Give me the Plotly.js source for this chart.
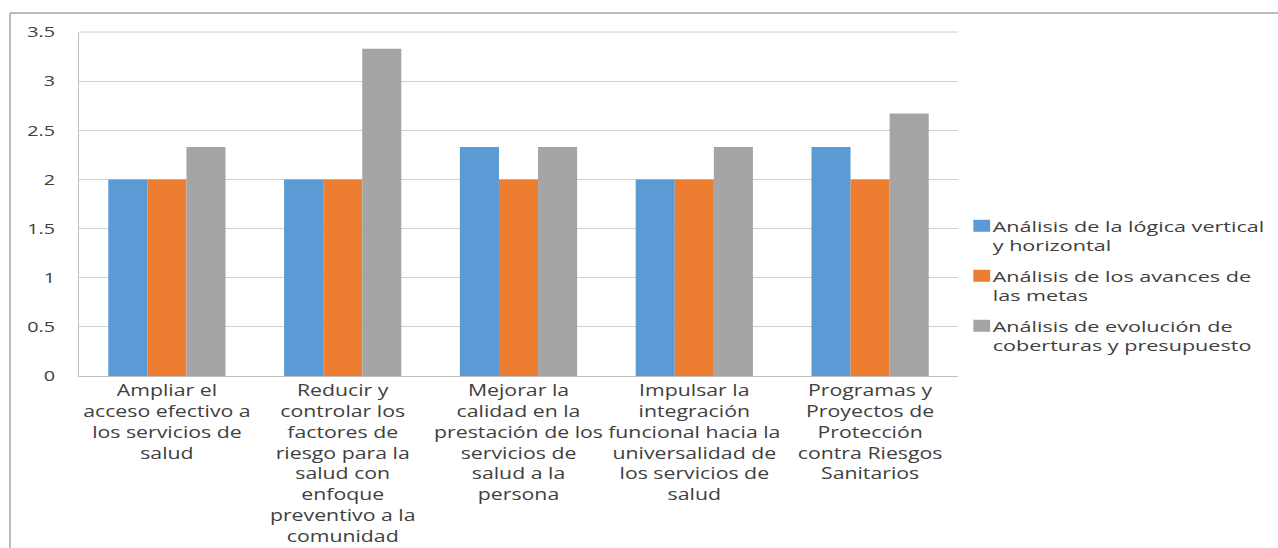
<!DOCTYPE html>
<html>
<head>
<meta charset="utf-8">
<script src="https://cdn.plot.ly/plotly-3.0.1.min.js"></script>
<style>html,body{margin:0;padding:0;background:#fff;}#chart{width:1278px;height:548px;}</style>
</head>
<body>
<div id="chart"></div>
<script>
var categories = [
  "Ampliar el<br>acceso efectivo a<br>los servicios de<br>salud",
  "Reducir y<br>controlar los<br>factores de<br>riesgo para la<br>salud con<br>enfoque<br>preventivo a la<br>comunidad",
  "Mejorar la<br>calidad en la<br>prestación de los<br>servicios de<br>salud a la<br>persona",
  "Impulsar la<br>integración<br>funcional hacia la<br>universalidad de<br>los servicios de<br>salud",
  "Programas y<br>Proyectos de<br>Protección<br>contra Riesgos<br>Sanitarios"
];
var seriesNames = [
  "Análisis de la lógica vertical<br>y horizontal",
  "Análisis de los avances de<br>las metas",
  "Análisis de evolución de<br>coberturas y presupuesto"
];
var logicaVertical = [2, 2, 2.33, 2, 2.33];
var avancesMetas = [2, 2, 2, 2, 2];
var evolucionCoberturas = [2.33, 3.33, 2.33, 2.33, 2.67];
var yTickValues = [0, 0.5, 1, 1.5, 2, 2.5, 3, 3.5];
var yTickLabels = ["0", "0.5", "1", "1.5", "2", "2.5", "3", "3.5"];
var colors = ["#5b9bd5", "#ed7d31", "#a5a5a5"];

var xIdx = categories.map(function(_, i){ return i; });
var values = [logicaVertical, avancesMetas, evolucionCoberturas];
var traces = values.map(function(v, k){
  return {type: "bar", x: xIdx, y: v, name: seriesNames[k], legendgroup: "g" + k,
          marker: {color: colors[k], line: {width: 0}}, hoverinfo: "none"};
});

var font = {family: "Open Sans, Noto Sans, sans-serif", color: "#404040"};
var layout = {
  width: 1278, height: 548,
  margin: {l: 79, r: 320, t: 32, b: 172},
  paper_bgcolor: "#fff", plot_bgcolor: "#fff",
  barmode: "group", bargap: 0.333, bargroupgap: 0,
  font: font,
  showlegend: true,
  legend: {x: 0.994, xanchor: "left", y: 0.263, yanchor: "middle",
           valign: "top", tracegroupgap: 8,
           font: {size: 15, family: font.family, color: "#404040"},
           itemwidth: 30, bgcolor: "rgba(0,0,0,0)"},
  xaxis: {tickmode: "array", tickvals: xIdx, ticktext: categories,
          range: [-0.5, 4.5], showgrid: false, zeroline: false,
          showline: true, linecolor: "#bfbfbf", linewidth: 1,
          ticks: "", tickfont: {size: 16, color: "#404040"}, fixedrange: true},
  yaxis: {range: [0, 3.5], tickmode: "array", tickvals: yTickValues, ticktext: yTickLabels,
          showgrid: true, gridcolor: "#d0d0d0", gridwidth: 1, zeroline: false,
          showline: true, linecolor: "#bfbfbf", linewidth: 1, ticks: "",
          ticklabelstandoff: 20,
          tickfont: {size: 15, color: "#404040"}, fixedrange: true},
  shapes: [
    {type: "line", xref: "paper", yref: "paper", x0: -0.0785, x1: 1.37, y0: 1.0552, y1: 1.0552,
     line: {color: "#a6a6a6", width: 1.5}},
    {type: "line", xref: "paper", yref: "paper", x0: -0.0785, x1: -0.0785, y0: 1.0552, y1: -0.52,
     line: {color: "#a6a6a6", width: 1.5}},
    {type: "line", xref: "paper", yref: "paper", x0: 0, x1: 1, y0: 1, y1: 1,
     line: {color: "#d0d0d0", width: 1}}
  ]
};

// Horizontal text stretch to mimic the wide rendering of the original chart
function stretchX(root, selector, factor, shift) {
  var els = root.querySelectorAll(selector);
  els.forEach(function(el){
    var ax = parseFloat(el.getAttribute("x")) || 0;
    var t = el.getAttribute("transform") || "";
    el.setAttribute("transform", t + " translate(" + (ax + (shift || 0)) + ",0) scale(" + factor + ",1) translate(" + (-ax) + ",0)");
  });
}

var gd = document.getElementById("chart");
Plotly.newPlot(gd, traces, layout, {displayModeBar: false, staticPlot: true}).then(function(){
  stretchX(gd, "g.xtick text", 1.33, 0);
  stretchX(gd, "g.ytick text", 1.32, 0);
  stretchX(gd, ".legendtext", 1.44, 0);
  stretchX(gd, ".legendpoints path", 1.4, 9);
  gd.querySelectorAll(".legend [clip-path]").forEach(function(el){
    el.removeAttribute("clip-path");
  });
});
</script>
</body>
</html>
